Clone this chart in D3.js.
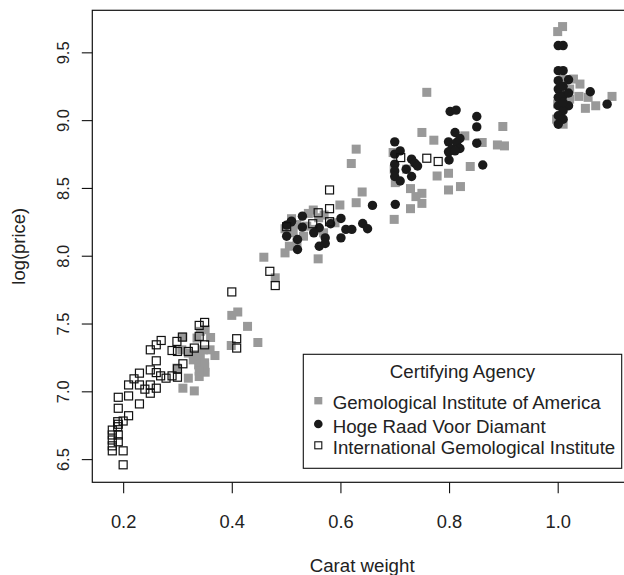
<!DOCTYPE html>
<html>
<head>
<meta charset="utf-8">
<script src="https://cdn.jsdelivr.net/npm/d3@7"></script>
<style>
  html, body { margin: 0; padding: 0; background: #fff; }
  svg text { font-family: "Liberation Sans", Arial, Helvetica, sans-serif; fill: #222; }
</style>
</head>
<body>
<svg id="chart" width="624" height="575"></svg>
<script>
// [carat, log(price)], one array per certifying agency
const giaPoints = [
    [0.400,7.560],[0.411,7.585],[0.429,7.479],[0.399,7.338],[0.448,7.360],
    [0.310,7.400],[0.310,7.023],[0.331,7.003],[0.320,7.097],[0.340,7.109],[0.351,7.141],
    [0.339,7.195],[0.329,7.232],[0.320,7.282],[0.308,7.306],[0.299,7.171],[0.342,7.257],
    [0.348,7.306],[0.361,7.397],[0.369,7.264],[0.360,7.306],[0.342,7.442],[0.336,7.393],
    [0.351,7.454],[0.350,7.180],[0.340,7.150],[0.330,7.270],[0.350,7.210],
    [0.640,8.470],[0.629,8.391],[0.599,8.374],[0.699,8.268],[0.550,8.337],[0.541,8.312],
    [0.510,8.273],[0.498,8.199],[0.513,8.169],[0.532,8.144],[0.538,8.218],[0.569,8.169],
    [0.559,7.977],[0.498,8.021],[0.506,8.070],[0.459,7.989],[0.480,7.837],[0.590,8.243],
    [0.551,8.194],[0.520,8.230],[0.560,8.280],[0.570,8.300],[0.510,8.180],[0.520,8.100],
    [0.759,9.205],[0.629,8.786],[0.620,8.680],[0.750,8.909],[0.772,8.852],[0.829,8.884],
    [0.861,8.835],[0.899,8.953],[0.889,8.817],[0.902,8.810],[0.839,8.658],[0.799,8.608],
    [0.778,8.588],[0.821,8.510],[0.799,8.485],[0.729,8.495],[0.750,8.460],[0.750,8.386],
    [0.729,8.347],[0.739,8.436],[0.701,8.539],[0.697,8.761],[0.699,8.638],[0.722,8.638],
    [1.000,9.653],[1.009,9.690],[1.029,9.303],[1.041,9.266],[1.039,9.175],[1.051,9.087],
    [1.070,9.106],[1.100,9.175],[1.056,9.168],[1.022,9.229],[1.022,9.155],[1.010,8.970],
    [0.998,9.007],[1.010,9.300],[1.000,9.120]
];

const hrdPoints = [
    [0.659,8.371],[0.701,8.379],[0.601,8.275],[0.582,8.236],[0.530,8.292],[0.530,8.211],
    [0.509,8.248],[0.501,8.226],[0.501,8.144],[0.521,8.120],[0.521,8.046],[0.561,8.206],
    [0.551,8.169],[0.572,8.132],[0.572,8.090],[0.561,8.070],[0.601,8.132],[0.610,8.194],
    [0.621,8.194],[0.641,8.238],[0.650,8.199],[0.510,8.255],
    [0.802,9.064],[0.813,9.074],[0.851,9.027],[0.851,8.950],[0.851,8.830],[0.862,8.669],
    [0.811,8.909],[0.820,8.865],[0.799,8.840],[0.814,8.835],[0.805,8.786],[0.820,8.791],
    [0.799,8.766],[0.811,8.773],[0.800,8.706],[0.700,8.840],[0.710,8.773],[0.700,8.749],
    [0.731,8.712],[0.737,8.682],[0.742,8.662],[0.721,8.638],[0.731,8.584],[0.700,8.675],
    [0.700,8.625],[0.700,8.584],[0.710,8.551],
    [1.001,9.550],[1.010,9.550],[1.001,9.365],[1.010,9.365],[1.020,9.298],[1.001,9.291],
    [1.001,9.229],[1.010,9.249],[1.001,9.168],[1.010,9.180],[1.001,9.106],[1.020,9.106],
    [1.010,9.069],[1.001,9.032],[1.010,9.007],[1.001,8.970],[1.060,9.209],[1.091,9.118],
    [1.020,9.200],[1.010,9.130]
];

const igiPoints = [
    [0.350,7.508],[0.340,7.486],[0.340,7.405],[0.350,7.343],[0.309,7.400],[0.299,7.368],
    [0.300,7.294],[0.290,7.301],[0.320,7.294],[0.331,7.319],[0.270,7.375],[0.261,7.343],
    [0.250,7.306],[0.261,7.225],[0.310,7.203],[0.300,7.166],[0.300,7.104],[0.290,7.114],
    [0.279,7.097],[0.269,7.114],[0.261,7.138],[0.250,7.158],[0.250,7.047],[0.261,7.023],
    [0.240,7.016],[0.230,7.134],[0.220,7.092],[0.210,7.047],[0.230,7.047],[0.250,6.986],
    [0.191,6.956],[0.210,6.966],[0.191,6.875],[0.230,6.907],[0.210,6.820],[0.200,6.781],
    [0.191,6.757],[0.180,6.714],[0.180,6.678],[0.180,6.641],[0.180,6.598],[0.180,6.561],
    [0.191,6.678],[0.191,6.628],[0.200,6.561],[0.200,6.458],[0.190,6.776],[0.190,6.739],
    [0.409,7.388],[0.409,7.319],[0.400,7.733],[0.480,7.780],[0.470,7.885],
    [0.559,8.317],[0.580,8.347],[0.580,8.485],[0.580,8.251],[0.549,8.236],[0.501,8.214],
    [0.759,8.719],[0.780,8.695],[0.711,8.724]
];

const agencies = ["Gemological Institute of America", "Hoge Raad Voor Diamant", "International Gemological Institute"];
const xTicks = [0.2, 0.4, 0.6, 0.8, 1.0];
const yTicks = [6.5, 7.0, 7.5, 8.0, 8.5, 9.0, 9.5];

const svg = d3.select("#chart");

const plotLeft = 92.3, plotRight = 632, plotTop = 10.3, plotBottom = 482.3;

const x = d3.scaleLinear().domain([0.1432, 1.1368]).range([plotLeft, plotRight]);
const y = d3.scaleLinear().domain([6.329, 9.81]).range([plotBottom, plotTop]);

// plot frame (right side runs off the picture, as in the reference)
svg.append("rect")
    .attr("x", plotLeft)
    .attr("y", plotTop)
    .attr("width", plotRight - plotLeft)
    .attr("height", plotBottom - plotTop)
    .attr("fill", "none")
    .attr("stroke", "#111")
    .attr("stroke-width", 1.2)

// axes
const xAxis = svg.append("g")
    .attr("transform", `translate(0,${plotBottom})`)
    .call(d3.axisBottom(x).tickValues(xTicks).tickFormat(d3.format(".1f")).tickSize(11))
xAxis.select(".domain").remove()
xAxis.selectAll("line").attr("stroke", "#111").attr("stroke-width", 1.1)
xAxis.selectAll("text")
    .attr("y", 45.4)
    .attr("dy", null)
    .style("font-size", "18.3px")
    .attr("font-family", null)
    .attr("fill", null)

const yAxis = svg.append("g")
    .attr("transform", `translate(${plotLeft},0)`)
    .call(d3.axisLeft(y).tickValues(yTicks).tickFormat(d3.format(".1f")).tickSize(10.5))
yAxis.select(".domain").remove()
yAxis.selectAll("line").attr("stroke", "#111").attr("stroke-width", 1.1)
yAxis.selectAll("text")
    .attr("x", null)
    .attr("dy", null)
    .attr("transform", "translate(-23.3,0) rotate(-90)")
    .attr("text-anchor", "middle")
    .style("font-size", "16.5px")
    .attr("font-family", null)
    .attr("fill", null)

svg.append("text")
    .text("Carat weight")
    .attr("x", (plotLeft + plotRight) / 2)
    .attr("y", 571.7)
    .attr("text-anchor", "middle")
    .style("font-size", "18.7px")

svg.append("text")
    .text("log(price)")
    .attr("transform", `translate(24.7,${(plotTop + plotBottom) / 2}) rotate(-90)`)
    .attr("text-anchor", "middle")
    .style("font-size", "18.4px")

// points: GIA grey squares, then HRD black dots, then IGI open squares
const plot = svg.append("g")

plot.selectAll("rect.gia")
    .data(giaPoints)
    .enter()
    .append("rect")
    .attr("class", "gia")
    .attr("x", d => x(d[0]) - 4.5)
    .attr("y", d => y(d[1]) - 4.5)
    .attr("width", 9)
    .attr("height", 9)
    .attr("fill", "#999")

plot.selectAll("circle.hrd")
    .data(hrdPoints)
    .enter()
    .append("circle")
    .attr("class", "hrd")
    .attr("cx", d => x(d[0]))
    .attr("cy", d => y(d[1]))
    .attr("r", 4.7)
    .attr("fill", "#1a1a1a")

plot.selectAll("rect.igi")
    .data(igiPoints)
    .enter()
    .append("rect")
    .attr("class", "igi")
    .attr("x", d => x(d[0]) - 4)
    .attr("y", d => y(d[1]) - 4)
    .attr("width", 8)
    .attr("height", 8)
    .attr("fill", "none")
    .attr("stroke", "#111")
    .attr("stroke-width", 1.2)

// legend
const legend = svg.append("g")
legend.append("rect")
    .attr("x", 303.3)
    .attr("y", 354.3)
    .attr("width", 318.4)
    .attr("height", 114)
    .attr("fill", "#fff")
    .attr("stroke", "#111")
    .attr("stroke-width", 1.1)

legend.append("text")
    .text("Certifying Agency")
    .attr("x", 462.5)
    .attr("y", 377.7)
    .attr("text-anchor", "middle")
    .style("font-size", "18.7px")

const rowY = [400.7, 424, 445.3];

legend.selectAll("text.item")
    .data(agencies)
    .enter()
    .append("text")
    .attr("class", "item")
    .text(d => d)
    .attr("x", 332.7)
    .attr("y", (d, i) => rowY[i] + 8.5)
    .style("font-size", "18.7px")

legend.append("rect")
    .attr("x", 314.3).attr("y", rowY[0] - 3.7)
    .attr("width", 8).attr("height", 7.4)
    .attr("fill", "#999")
legend.append("circle")
    .attr("cx", 318.3).attr("cy", rowY[1])
    .attr("r", 4.3)
    .attr("fill", "#1a1a1a")
legend.append("rect")
    .attr("x", 314.8).attr("y", rowY[2] - 3.5)
    .attr("width", 7).attr("height", 7)
    .attr("fill", "none")
    .attr("stroke", "#111")
    .attr("stroke-width", 1.1)
</script>
</body>
</html>
